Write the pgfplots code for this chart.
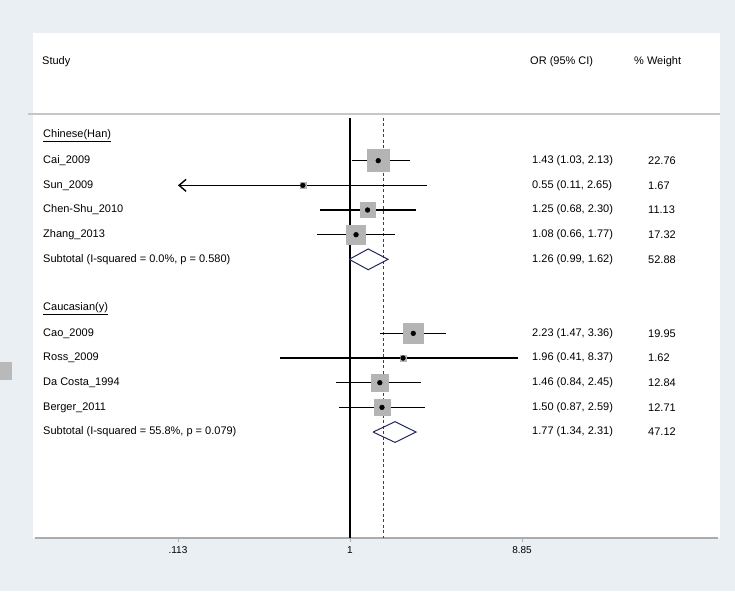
\documentclass[border=0pt]{standalone}
\usepackage{pgfplots}
\pgfplotsset{compat=1.18}
\usepackage{pgfplotstable}
\usepackage{fontspec}
\setmainfont{Liberation Sans}
\usetikzlibrary{arrows.meta}
\definecolor{bgc}{RGB}{233,239,242}
\definecolor{boxc}{RGB}{180,180,180}
\definecolor{diac}{RGB}{35,40,95}
\pgfplotstableread{
r or lo hi w
1 1.43 1.03 2.13 22.76
2 0.55 0.11 2.65 1.67
3 1.25 0.68 2.30 11.13
4 1.08 0.66 1.77 17.32
8 2.23 1.47 3.36 19.95
9 1.96 0.41 8.37 1.62
10 1.46 0.84 2.45 12.84
11 1.50 0.87 2.59 12.71
}\studies
\tikzset{txt/.style={font=\fontsize{11}{13}\selectfont, inner sep=0pt, anchor=west}}
\pgfplotsset{wbox/.style={only marks, mark=square*, color=boxc, mark options={draw=boxc, fill=boxc}, mark size=#1},
  ci/.style={black, line width=1.4pt}}
\begin{document}
\begin{tikzpicture}
\fill[bgc] (0,0) rectangle (735pt,591pt);
\useasboundingbox (0,0) rectangle (735pt,591pt);
\fill[white] (33pt,53pt) rectangle (720pt,558pt);
\fill[gray!55] (0pt,211pt) rectangle (12pt,229pt);
\draw[gray!45, line width=1.5pt] (28pt,477pt) -- (720pt,477pt);
\begin{axis}[
  at={(35pt,53pt)}, anchor=south west,
  width=683pt, height=505pt, scale only axis,
  xmode=log, xmin=0.01844, xmax=106.2,
  ymin=-4.175, ymax=16.295, y dir=reverse,
  axis y line=none, axis x line*=bottom,
  x axis line style={draw=gray!65, line width=1.6pt, -},
  xtick={0.113,1,8.85}, xticklabels={.113,1,8.85},
  xtick style={draw=gray!65, line width=0.8pt},
  tick align=outside, major tick length=4pt,
  minor xtick={},
  xticklabel style={font=\fontsize{10}{12}\selectfont, yshift=-1pt},
  /pgf/number format/assume math mode=true,
  clip=false,
]
% overall dashed line
\addplot[black!75, line width=0.9pt, dash pattern=on 3pt off 2.5pt] coordinates {(1.52,-0.73) (1.52,16.295)};
% weight boxes (half side proportional to sqrt of weight)
\addplot[wbox=11.0pt] coordinates {(1.43,1)};
\addplot[wbox=2.98pt] coordinates {(0.55,2)};
\addplot[wbox=7.69pt] coordinates {(1.25,3)};
\addplot[wbox=9.60pt] coordinates {(1.08,4)};
\addplot[wbox=10.3pt] coordinates {(2.23,8)};
\addplot[wbox=2.93pt] coordinates {(1.96,9)};
\addplot[wbox=8.26pt] coordinates {(1.46,10)};
\addplot[wbox=8.22pt] coordinates {(1.50,11)};
% null line
\addplot[black, line width=1.6pt] coordinates {(1,-0.73) (1,16.295)};
% confidence intervals
\addplot[ci] coordinates {(1.03,1) (2.13,1)};
\addplot[ci, {Straight Barb[length=7pt,width=12pt]}-] coordinates {(0.113,2) (2.65,2)};
\addplot[ci] coordinates {(0.68,3) (2.30,3)};
\addplot[ci] coordinates {(0.66,4) (1.77,4)};
\addplot[ci] coordinates {(1.47,8) (3.36,8)};
\addplot[ci] coordinates {(0.41,9) (8.37,9)};
\addplot[ci] coordinates {(0.84,10) (2.45,10)};
\addplot[ci] coordinates {(0.87,11) (2.59,11)};
% point estimates
\addplot[only marks, mark=*, mark size=2.4pt, black] table[x=or, y=r] {\studies};
% subtotal diamonds
\addplot[draw=diac, line width=1pt] coordinates {(0.99,5) (1.26,4.58) (1.62,5) (1.26,5.42) (0.99,5)};
\addplot[draw=diac, line width=1pt] coordinates {(1.34,12) (1.77,11.58) (2.31,12) (1.77,12.42) (1.34,12)};
\end{axis}
% header
\node[txt] at (42pt,529pt) {Study};
\node[txt] at (530pt,529pt) {OR (95\% CI)};
\node[txt] at (634pt,529pt) {\% Weight};
% rows
\newcommand\row[4]{%
  \node[txt] at (43pt,{455pt-24.67pt*#1}) {#2};
  \node[txt] at (532pt,{455pt-24.67pt*#1}) {#3};
  \node[txt] at (648pt,{455pt-24.67pt*#1}) {#4};}
\node[txt] at (43pt,455pt) {\underline{Chinese(Han)}};
\row{1}{Cai\_2009}{1.43 (1.03, 2.13)}{22.76}
\row{2}{Sun\_2009}{0.55 (0.11, 2.65)}{1.67}
\row{3}{Chen-Shu\_2010}{1.25 (0.68, 2.30)}{11.13}
\row{4}{Zhang\_2013}{1.08 (0.66, 1.77)}{17.32}
\row{5}{Subtotal  (I-squared = 0.0\%, p = 0.580)}{1.26 (0.99, 1.62)}{52.88}
\node[txt] at (43pt,{455pt-24.67pt*7}) {\underline{Caucasian(y)}};
\row{8}{Cao\_2009}{2.23 (1.47, 3.36)}{19.95}
\row{9}{Ross\_2009}{1.96 (0.41, 8.37)}{1.62}
\row{10}{Da Costa\_1994}{1.46 (0.84, 2.45)}{12.84}
\row{11}{Berger\_2011}{1.50 (0.87, 2.59)}{12.71}
\row{12}{Subtotal  (I-squared = 55.8\%, p = 0.079)}{1.77 (1.34, 2.31)}{47.12}
\end{tikzpicture}
\end{document}
